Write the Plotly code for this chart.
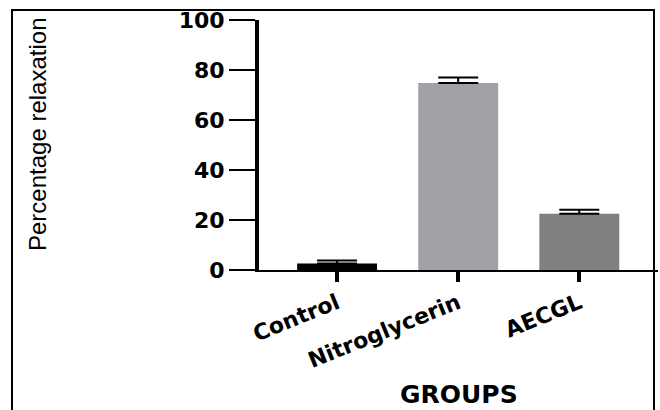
import plotly.graph_objects as go

categories = ["Control", "Nitroglycerin", "AECGL"]
values = [2.6, 74.8, 22.5]
errors_up = [1.2, 2.2, 1.6]
bar_colors = ["#000000", "#a2a2a6", "#808080"]
y_ticks = [0, 20, 40, 60, 80, 100]

W, H = 660, 410
L, R, T, B = 259, 2, 20, 140
pw, ph = W - L - R, H - T - B

def px_x(x):
    return (x - L) / pw

def px_y(y):
    return (H - B - y) / ph

fig = go.Figure()
fig.add_trace(go.Bar(
    x=list(range(len(categories))),
    y=values,
    width=0.66,
    marker=dict(color=bar_colors, line=dict(width=0)),
    error_y=dict(type="data", symmetric=False, array=errors_up,
                 arrayminus=[0] * len(values), color="#000000",
                 thickness=2, width=20),
    showlegend=False,
    hoverinfo="skip",
))

fig.update_layout(
    width=W, height=H,
    margin=dict(l=L, r=R, t=T, b=B),
    paper_bgcolor="white", plot_bgcolor="white",
    xaxis=dict(
        range=[-0.645, 2.65],
        tickvals=list(range(len(categories))),
        ticktext=categories,
        tickangle=-22,
        ticks="outside", ticklen=10, tickwidth=4, tickcolor="black",
        showline=True, linecolor="black", linewidth=2,
        showgrid=False, zeroline=False,
        tickfont=dict(family="DejaVu Sans", size=22, color="black", weight="bold"),
    ),
    yaxis=dict(
        range=[0, 100],
        tickvals=y_ticks,
        ticks="outside", ticklen=26, tickwidth=2, tickcolor="black",
        showline=True, linecolor="black", linewidth=4,
        showgrid=False, zeroline=False,
        tickfont=dict(family="DejaVu Sans", size=22, color="black", weight="bold"),
    ),
    annotations=[
        dict(text="Percentage relaxation", xref="paper", yref="paper",
             x=px_x(37), y=px_y(135), xanchor="center", yanchor="middle",
             textangle=-90, showarrow=False,
             font=dict(family="Liberation Sans", size=24, color="black")),
        dict(text="GROUPS", xref="paper", yref="paper",
             x=px_x(459), y=px_y(394), xanchor="center", yanchor="middle",
             showarrow=False,
             font=dict(family="DejaVu Sans", size=25, color="black", weight="bold")),
    ],
    shapes=[
        dict(type="rect", xref="paper", yref="paper",
             x0=px_x(12), x1=px_x(654), y0=px_y(420), y1=px_y(10),
             line=dict(color="black", width=2), fillcolor="rgba(0,0,0,0)", layer="above"),
    ],
)

fig.write_html("out.html", config={"displayModeBar": False},
               post_script="document.body.style.margin='0px';")
